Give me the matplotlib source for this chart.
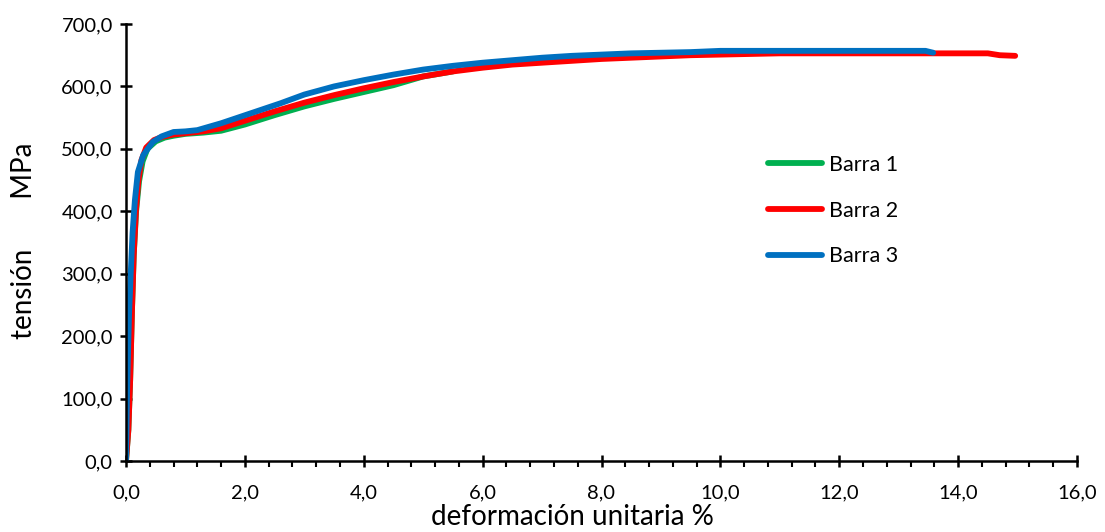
"""
Curvas tensión-deformación de tres barras
"""
import matplotlib
matplotlib.use("Agg")
import matplotlib.pyplot as plt
from matplotlib.ticker import FuncFormatter, MultipleLocator

# deformación unitaria (%) y tensión (MPa)
def_barra1 = [0.0, 0.04, 0.07, 0.10, 0.13, 0.17, 0.22, 0.28, 0.36, 0.5, 0.65, 0.8, 1.0, 1.3, 1.6,
              2.0, 2.5, 3.0, 3.5, 4.0, 4.5, 5.0, 5.5]
ten_barra1 = [0.0, 50.0, 130.0, 240.0, 330.0, 400.0, 448.0, 480.0, 500.0, 512.0, 518.0, 521.0, 524.0, 526.0, 529.0,
              539.0, 554.0, 568.0, 580.0, 591.0, 602.0, 616.0, 624.0]

def_barra2 = [0.0, 0.04, 0.07, 0.10, 0.13, 0.17, 0.21, 0.26, 0.34, 0.47, 0.6, 0.8, 1.0, 1.3, 1.6,
              2.0, 2.5, 3.0, 3.5, 4.0, 4.5, 5.0, 5.5, 6.0, 6.5, 7.0, 7.5, 8.0, 8.5, 9.0, 9.5,
              10.0, 10.5, 11.0, 12.0, 13.0, 14.0, 14.5, 14.7, 14.96]
ten_barra2 = [0.0, 50.0, 130.0, 240.0, 330.0, 405.0, 450.0, 482.0, 502.0, 514.0, 519.0, 523.0, 525.0, 528.0, 533.0,
              545.0, 560.0, 574.0, 586.0, 597.0, 607.0, 616.0, 624.0, 630.0, 635.0, 638.0, 641.0, 644.0, 646.0, 648.0, 650.0,
              651.0, 652.0, 653.0, 653.0, 653.0, 653.0, 653.0, 650.0, 649.0]

def_barra3 = [0.0, 0.02, 0.05, 0.08, 0.11, 0.15, 0.20, 0.29, 0.45, 0.6, 0.8, 1.0, 1.2, 1.6,
              2.1, 2.6, 3.0, 3.5, 4.0, 4.5, 5.0, 5.5, 6.0, 6.5, 7.0, 7.5, 8.0, 8.5, 9.0, 9.5,
              10.0, 11.0, 12.0, 13.0, 13.45, 13.58]
ten_barra3 = [0.0, 120.0, 231.0, 301.0, 365.0, 418.0, 463.0, 490.0, 511.0, 520.0, 527.0, 528.0, 530.0, 541.0,
              557.0, 573.0, 587.0, 600.0, 610.0, 619.0, 627.0, 633.0, 638.0, 642.0, 646.0, 649.0, 651.0, 653.0, 654.0, 655.0,
              657.0, 657.0, 657.0, 657.0, 657.0, 654.0]

etiquetas = ["Barra 1", "Barra 2", "Barra 3"]
colores = ["#00b050", "#ff0000", "#0070c0"]

plt.rcParams['font.family'] = ['Lato', 'DejaVu Sans']

fig = plt.figure(figsize=(11.05, 5.32), dpi=100)
ax = fig.add_axes([126 / 1105, 71 / 532, 951 / 1105, 437 / 532])

series = [(def_barra1, ten_barra1), (def_barra2, ten_barra2), (def_barra3, ten_barra3)]
for (x, y), etiqueta, color in zip(series, etiquetas, colores):
    ax.plot(x, y, color=color, lw=4.2, label=etiqueta, solid_capstyle='round', solid_joinstyle='round')

ax.set_xlim(0, 16)
ax.set_ylim(0, 700)
ax.xaxis.set_major_locator(MultipleLocator(2))
ax.xaxis.set_minor_locator(MultipleLocator(0.4))
ax.yaxis.set_major_locator(MultipleLocator(100))
coma = FuncFormatter(lambda v, p: f"{v:.1f}".replace('.', ','))
ax.xaxis.set_major_formatter(coma)
ax.yaxis.set_major_formatter(coma)

for s in ['top', 'right']:
    ax.spines[s].set_visible(False)
for s in ['left', 'bottom']:
    ax.spines[s].set_linewidth(1.8)
ax.tick_params(which='major', direction='inout', length=9, width=1.8, labelsize=14.5, pad=6)
ax.tick_params(axis='x', which='minor', direction='out', length=4, width=1.5)
ax.tick_params(axis='x', which='major', pad=12)
ax.tick_params(axis='y', pad=5)

ax.set_xlabel("deformación unitaria %", fontsize=20)
ax.xaxis.set_label_coords((572 - 126) / 951, -0.098)
ax.set_ylabel("tensión       MPa", fontsize=20)
ax.yaxis.set_label_coords(-(126 - 37) / 951, 0.505)

ax.legend(loc='upper left', bbox_to_anchor=(0.655, 0.745), frameon=False, fontsize=15.5,
          handlelength=2.5, labelspacing=1.2, handletextpad=0.3)

fig.savefig("out.png", dpi=100)
